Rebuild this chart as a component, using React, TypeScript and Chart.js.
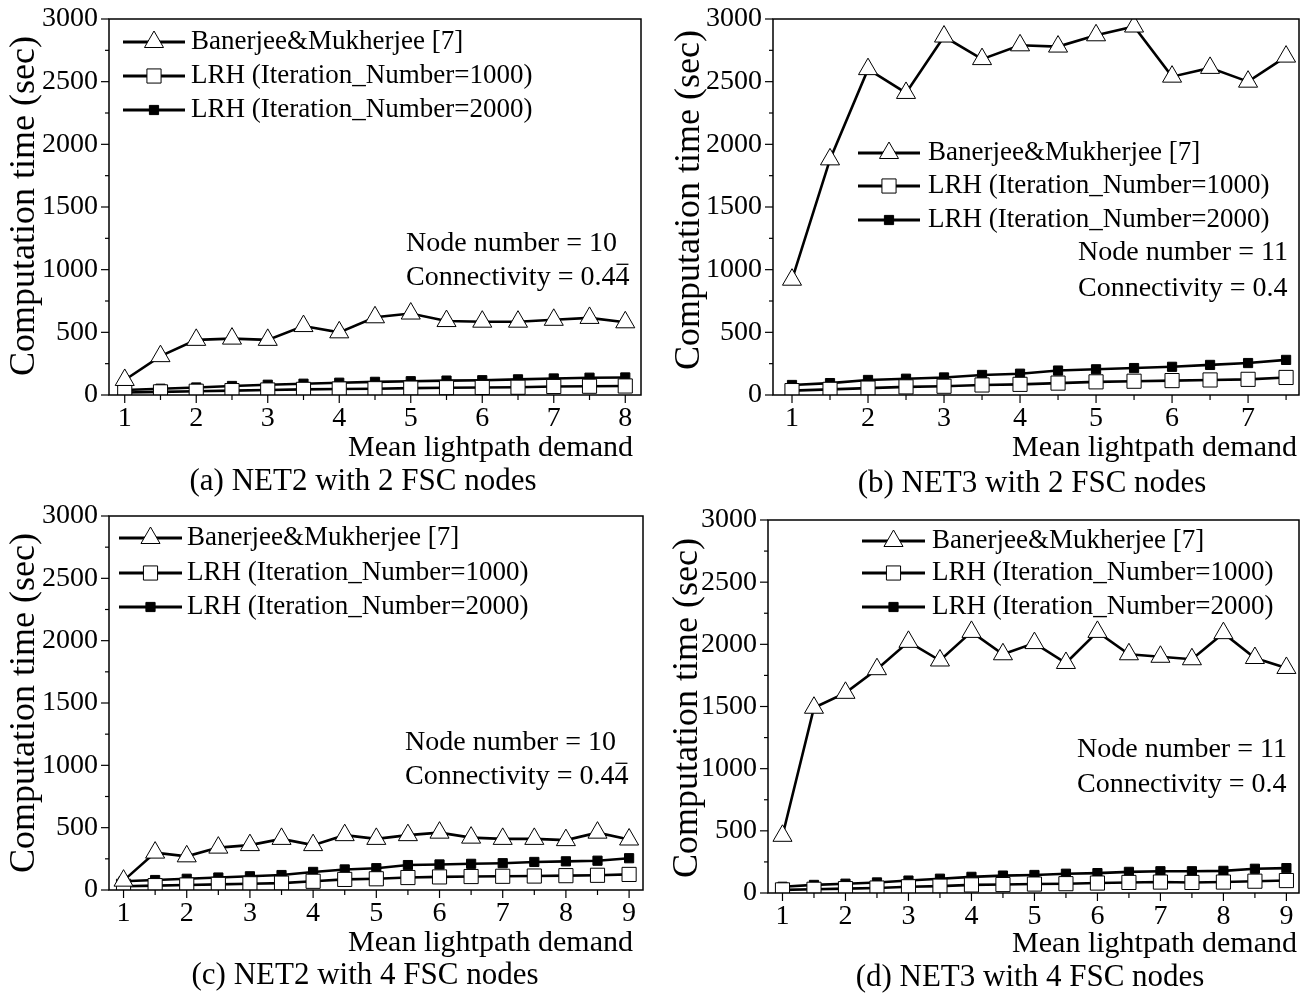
import React, { useEffect, useRef } from 'react';
import { Chart, registerables } from 'chart.js';
Chart.register(...registerables);

// ---------- data ----------
const xA = [1, 1.5, 2, 2.5, 3, 3.5, 4, 4.5, 5, 5.5, 6, 6.5, 7, 7.5, 8];
const banA = [120, 310, 440, 450, 440, 550, 500, 620, 650, 590, 585, 585, 600, 615, 580];
const lrh1000A = [20, 25, 30, 35, 40, 45, 48, 50, 55, 58, 60, 62, 68, 70, 72];
const lrh2000A = [40, 50, 60, 72, 82, 90, 98, 105, 110, 115, 118, 125, 132, 138, 140];

const xB = [1, 1.5, 2, 2.5, 3, 3.5, 4, 4.5, 5, 5.5, 6, 6.5, 7, 7.5];
const banB = [920, 1880, 2600, 2410, 2860, 2680, 2790, 2780, 2870, 2940, 2540, 2610, 2500, 2700];
const lrh1000B = [35, 45, 55, 65, 70, 80, 85, 95, 105, 110, 115, 120, 125, 140];
const lrh2000B = [80, 95, 120, 130, 140, 160, 170, 195, 205, 215, 225, 240, 255, 280];

const xC = [1, 1.5, 2, 2.5, 3, 3.5, 4, 4.5, 5, 5.5, 6, 6.5, 7, 7.5, 8, 8.5, 9];
const banC = [75, 300, 270, 340, 360, 410, 360, 440, 410, 440, 460, 420, 410, 410, 400, 460, 405];
const lrh1000C = [30, 35, 40, 45, 50, 55, 70, 85, 90, 100, 105, 108, 110, 112, 115, 118, 125];
const lrh2000C = [70, 80, 90, 100, 110, 120, 145, 165, 175, 200, 205, 210, 215, 225, 230, 235, 255];

const xD = [1, 1.5, 2, 2.5, 3, 3.5, 4, 4.5, 5, 5.5, 6, 6.5, 7, 7.5, 8, 8.5, 9];
const banD = [460, 1490, 1610, 1800, 2020, 1870, 2100, 1920, 2010, 1850, 2100, 1920, 1900, 1880, 2090, 1890, 1810];
const lrh1000D = [25, 30, 35, 40, 50, 55, 65, 68, 72, 75, 80, 85, 88, 85, 88, 95, 100];
const lrh2000D = [50, 65, 75, 85, 100, 115, 130, 140, 145, 155, 160, 170, 175, 175, 178, 195, 200];

const seriesLabels = ['Banerjee&Mukherjee [7]', 'LRH (Iteration_Number=1000)', 'LRH (Iteration_Number=2000)'];
const yTickValues = [0, 500, 1000, 1500, 2000, 2500, 3000];
const xTicksA = [1, 2, 3, 4, 5, 6, 7, 8];
const xTicksB = [1, 2, 3, 4, 5, 6, 7];
const xTicksCD = [1, 2, 3, 4, 5, 6, 7, 8, 9];
const captions = ['(a) NET2 with 2 FSC nodes', '(b) NET3 with 2 FSC nodes', '(c) NET2 with 4 FSC nodes', '(d) NET3 with 4 FSC nodes'];
const yTitle = 'Computation time (sec)';
const xTitle = 'Mean lightpath demand';
const annotNET2 = ['Node number = 10', 'Connectivity = 0.44'];
const annotNET3 = ['Node number = 11', 'Connectivity = 0.4'];

// ---------- layout ----------
const W = 1311;
const H = 994;
const YW = 80;
const XH = 44;
const FONT = '"Liberation Serif", "Times New Roman", serif';

type Panel = {
  xs: number[]; ban: number[]; l1: number[]; l2: number[];
  ticks: number[]; xmin: number; xmax: number;
  plot: { l: number; t: number; r: number; b: number };
  legend: { x1: number; x2: number; tx: number; ys: number[] };
  annot: { x: number; ys: number[]; lines: string[]; bar: boolean };
  ytitle: { x: number; y: number };
  xtitle: { r: number; y: number };
  caption: { x: number; y: number; text: string };
};

const panels: Panel[] = [
  {
    xs: xA, ban: banA, l1: lrh1000A, l2: lrh2000A, ticks: xTicksA, xmin: 0.78, xmax: 8.22,
    plot: { l: 109, t: 19, r: 641, b: 395 },
    legend: { x1: 123, x2: 185, tx: 191, ys: [42, 76, 110] },
    annot: { x: 406, ys: [251, 285], lines: annotNET2, bar: true },
    ytitle: { x: 25, y: 206 }, xtitle: { r: 633, y: 448 }, caption: { x: 363, y: 482, text: captions[0] },
  },
  {
    xs: xB, ban: banB, l1: lrh1000B, l2: lrh2000B, ticks: xTicksB, xmin: 0.75, xmax: 7.67,
    plot: { l: 773, t: 19, r: 1299, b: 395 },
    legend: { x1: 858, x2: 920, tx: 928, ys: [153, 186, 220] },
    annot: { x: 1078, ys: [260, 296], lines: annotNET3, bar: false },
    ytitle: { x: 690, y: 200 }, xtitle: { r: 1297, y: 448 }, caption: { x: 1032, y: 484, text: captions[1] },
  },
  {
    xs: xC, ban: banC, l1: lrh1000C, l2: lrh2000C, ticks: xTicksCD, xmin: 0.77, xmax: 9.22,
    plot: { l: 109, t: 516, r: 643, b: 890 },
    legend: { x1: 119, x2: 182, tx: 187, ys: [538, 573, 607] },
    annot: { x: 405, ys: [750, 784], lines: annotNET2, bar: true },
    ytitle: { x: 25, y: 703 }, xtitle: { r: 633, y: 943 }, caption: { x: 365, y: 976, text: captions[2] },
  },
  {
    xs: xD, ban: banD, l1: lrh1000D, l2: lrh2000D, ticks: xTicksCD, xmin: 0.77, xmax: 9.2,
    plot: { l: 768, t: 520, r: 1304, b: 893 },
    legend: { x1: 862, x2: 925, tx: 932, ys: [541, 573, 607] },
    annot: { x: 1077, ys: [757, 792], lines: annotNET3, bar: false },
    ytitle: { x: 688, y: 708 }, xtitle: { r: 1297, y: 944 }, caption: { x: 1030, y: 978, text: captions[3] },
  },
];

const TRI_R = 11;
const OSQ_R = 10;
const FSQ_R = 6.5;

function drawMarker(ctx: CanvasRenderingContext2D, kind: number, x: number, y: number) {
  ctx.save();
  ctx.lineWidth = 1;
  ctx.strokeStyle = '#000';
  ctx.beginPath();
  if (kind === 0) {
    const r = TRI_R;
    ctx.moveTo(x, y - r);
    ctx.lineTo(x + Math.sin((2 * Math.PI) / 3) * r, y + r / 2);
    ctx.lineTo(x - Math.sin((2 * Math.PI) / 3) * r, y + r / 2);
    ctx.closePath();
    ctx.fillStyle = '#fff';
  } else if (kind === 1) {
    const s = Math.SQRT1_2 * OSQ_R;
    ctx.rect(x - s, y - s, 2 * s, 2 * s);
    ctx.fillStyle = '#fff';
  } else {
    const s = Math.SQRT1_2 * FSQ_R;
    ctx.rect(x - s, y - s, 2 * s, 2 * s);
    ctx.fillStyle = '#000';
  }
  ctx.fill();
  ctx.stroke();
  ctx.restore();
}

function makeDecor(p: Panel) {
  return {
    id: 'decor',
    afterDraw(chart: any) {
      const ctx: CanvasRenderingContext2D = chart.ctx;
      const ca = chart.chartArea;
      const xs = chart.scales.x;
      const ys = chart.scales.y;
      ctx.save();
      // frame
      ctx.strokeStyle = '#000';
      ctx.lineWidth = 1.5;
      ctx.strokeRect(ca.left, ca.top, ca.right - ca.left, ca.bottom - ca.top);
      // y ticks
      ctx.lineWidth = 1.2;
      for (let v = 0; v <= 3000; v += 250) {
        const py = ys.getPixelForValue(v);
        const len = v % 500 === 0 ? 8 : 4;
        ctx.beginPath();
        ctx.moveTo(ca.left - len, py);
        ctx.lineTo(ca.left, py);
        ctx.stroke();
      }
      // x ticks
      for (let v = Math.ceil(p.xmin * 2) / 2; v <= p.xmax; v += 0.5) {
        const px = xs.getPixelForValue(v);
        const len = Number.isInteger(v) ? 8 : 5;
        ctx.beginPath();
        ctx.moveTo(px, ca.bottom);
        ctx.lineTo(px, ca.bottom + len);
        ctx.stroke();
      }
      ctx.fillStyle = '#000';
      // y title
      ctx.save();
      ctx.translate(p.ytitle.x, p.ytitle.y);
      ctx.rotate(-Math.PI / 2);
      ctx.font = `36px ${FONT}`;
      ctx.textAlign = 'center';
      ctx.textBaseline = 'middle';
      ctx.fillText(yTitle, 0, 0);
      ctx.restore();
      // x title
      ctx.font = `30px ${FONT}`;
      ctx.textAlign = 'right';
      ctx.textBaseline = 'middle';
      ctx.fillText(xTitle, p.xtitle.r, p.xtitle.y);
      // caption
      ctx.font = `31px ${FONT}`;
      ctx.textAlign = 'center';
      ctx.fillText(p.caption.text, p.caption.x, p.caption.y);
      // legend
      ctx.textAlign = 'left';
      for (let i = 0; i < 3; i++) {
        const y = p.legend.ys[i];
        ctx.lineWidth = 3;
        ctx.beginPath();
        ctx.moveTo(p.legend.x1, y);
        ctx.lineTo(p.legend.x2, y);
        ctx.stroke();
        drawMarker(ctx, i, (p.legend.x1 + p.legend.x2) / 2, y);
        ctx.fillStyle = '#000';
        ctx.font = `27px ${FONT}`;
        ctx.textBaseline = 'middle';
        ctx.fillText(seriesLabels[i], p.legend.tx, y);
      }
      // annotation
      ctx.font = `28px ${FONT}`;
      ctx.textBaseline = 'alphabetic';
      ctx.textAlign = 'left';
      for (let i = 0; i < p.annot.lines.length; i++) {
        ctx.fillText(p.annot.lines[i], p.annot.x, p.annot.ys[i]);
      }
      if (p.annot.bar) {
        const t = p.annot.lines[1];
        const wAll = ctx.measureText(t).width;
        const w4 = ctx.measureText('4').width;
        const x0 = p.annot.x + wAll - w4;
        const yb = p.annot.ys[1] - 28 * 0.74;
        ctx.lineWidth = 1.3;
        ctx.beginPath();
        ctx.moveTo(x0 + 1, yb);
        ctx.lineTo(x0 + w4 - 1, yb);
        ctx.stroke();
      }
      ctx.restore();
    },
  };
}

function PanelChart({ p }: { p: Panel }) {
  const ref = useRef<HTMLCanvasElement | null>(null);
  useEffect(() => {
    if (!ref.current) return;
    const mk = (vals: number[]) => p.xs.map((x, i) => ({ x, y: vals[i] }));
    const tickFont = { family: FONT, size: 28 };
    const chart = new Chart(ref.current, {
      type: 'line',
      data: {
        datasets: [
          {
            label: seriesLabels[0], data: mk(p.ban), borderColor: '#000', borderWidth: 2.6,
            pointStyle: 'triangle', pointRadius: TRI_R, pointBackgroundColor: '#fff', pointBorderColor: '#000', pointBorderWidth: 1,
          },
          {
            label: seriesLabels[1], data: mk(p.l1), borderColor: '#000', borderWidth: 2.6,
            pointStyle: 'rect', pointRadius: OSQ_R, pointBackgroundColor: '#fff', pointBorderColor: '#000', pointBorderWidth: 1,
          },
          {
            label: seriesLabels[2], data: mk(p.l2), borderColor: '#000', borderWidth: 2.6,
            pointStyle: 'rect', pointRadius: FSQ_R, pointBackgroundColor: '#000', pointBorderColor: '#000', pointBorderWidth: 1,
          },
        ],
      },
      options: {
        responsive: false,
        animation: false,
        events: [],
        layout: {
          padding: {
            left: p.plot.l - YW,
            top: p.plot.t,
            right: W - p.plot.r,
            bottom: H - p.plot.b - XH,
          },
        },
        plugins: { legend: { display: false }, tooltip: { enabled: false } },
        scales: {
          x: {
            type: 'linear',
            min: p.xmin,
            max: p.xmax,
            afterFit: (s: any) => { s.height = XH; s.paddingLeft = 0; s.paddingRight = 0; },
            afterBuildTicks: (s: any) => { s.ticks = p.ticks.map((v) => ({ value: v })); },
            grid: { display: false, drawTicks: false },
            border: { display: false },
            ticks: { padding: 7, font: tickFont, color: '#000', autoSkip: false, maxRotation: 0, callback: (v: any) => String(v) },
          },
          y: {
            min: 0,
            max: 3000,
            afterFit: (s: any) => { s.width = YW; s.paddingTop = 0; s.paddingBottom = 0; },
            afterBuildTicks: (s: any) => { s.ticks = yTickValues.map((v) => ({ value: v })); },
            grid: { display: false, drawTicks: false },
            border: { display: false },
            ticks: { padding: 11, font: tickFont, color: '#000', callback: (v: any) => String(v) },
          },
        },
      },
      plugins: [makeDecor(p)],
    } as any);
    return () => chart.destroy();
  }, [p]);
  return (
    <canvas
      ref={ref}
      width={W}
      height={H}
      style={{ position: 'absolute', left: 0, top: 0, width: W, height: H }}
    />
  );
}

export default function App() {
  return (
    <div style={{ position: 'absolute', left: 0, top: 0, width: W, height: H, background: '#fff', overflow: 'hidden' }}>
      {panels.map((p, i) => (
        <PanelChart key={i} p={p} />
      ))}
    </div>
  );
}
